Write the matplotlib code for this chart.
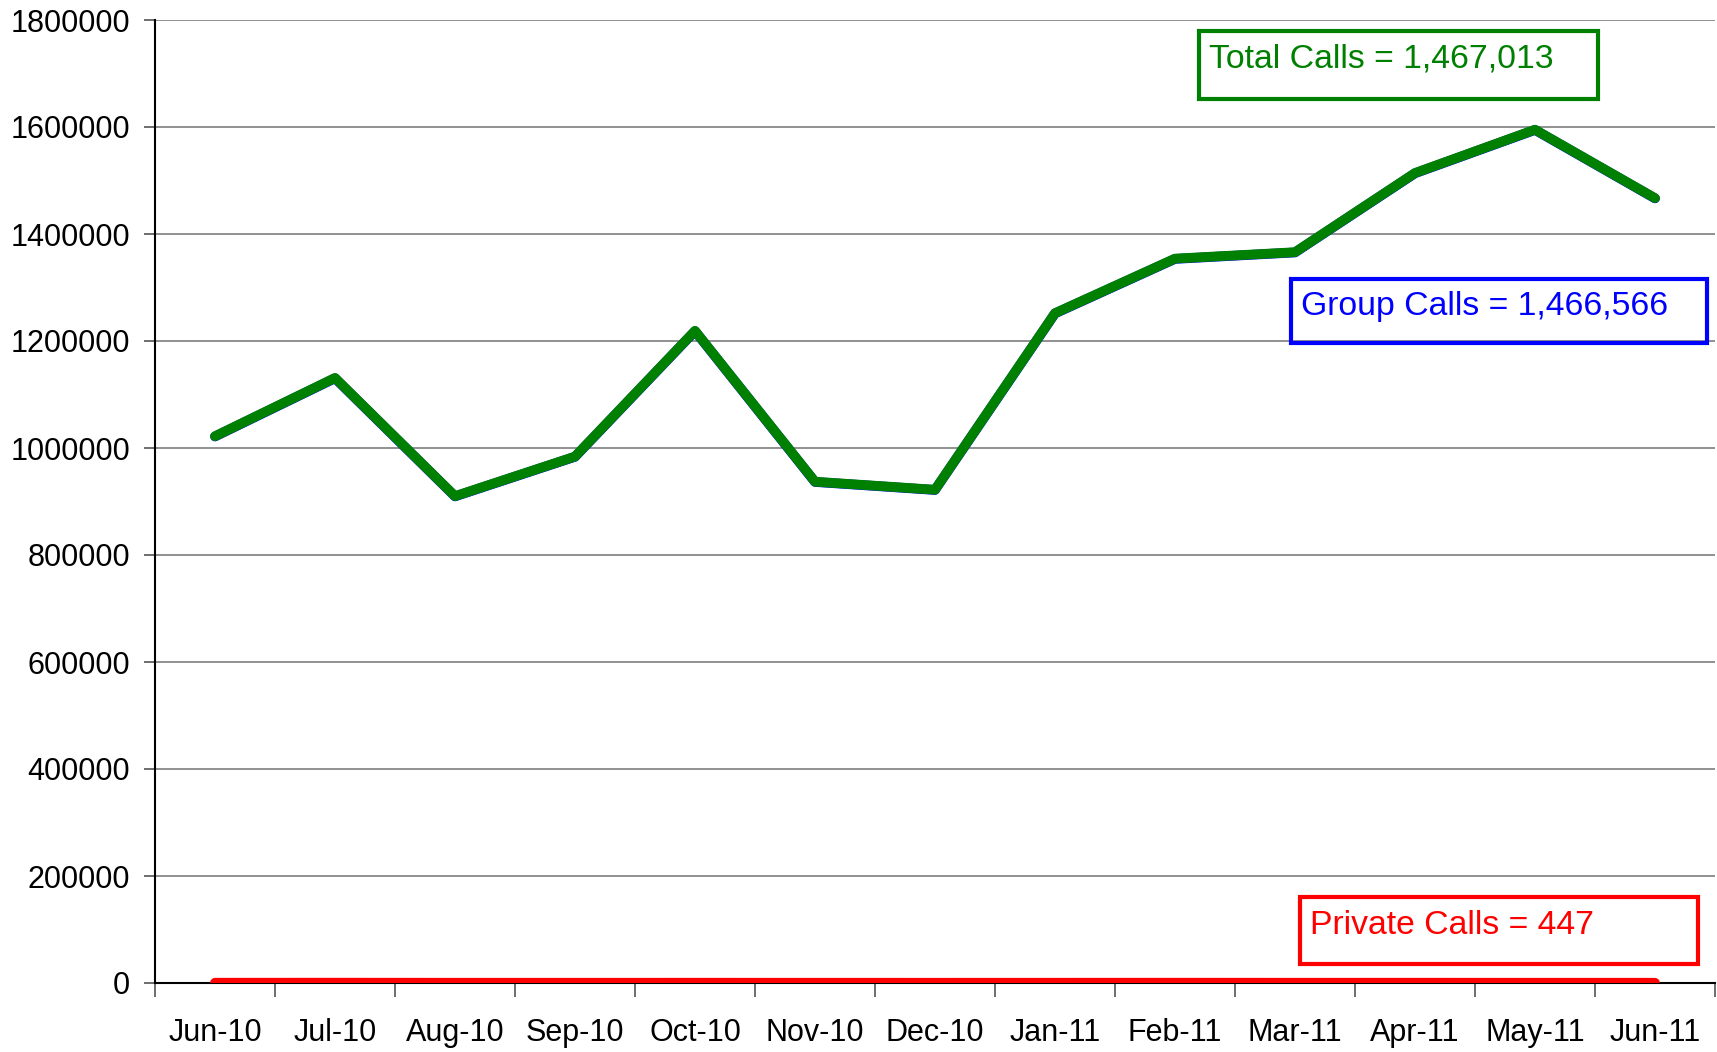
import matplotlib.pyplot as plt
import numpy as np
from matplotlib.patches import Rectangle

plt.rcParams['font.family'] = ['Liberation Sans', 'DejaVu Sans']

months = ['Jun-10', 'Jul-10', 'Aug-10', 'Sep-10', 'Oct-10', 'Nov-10', 'Dec-10',
          'Jan-11', 'Feb-11', 'Mar-11', 'Apr-11', 'May-11', 'Jun-11']
total_calls = [1022000, 1131000, 910000, 984000, 1219000, 937000, 922000,
               1252000, 1354000, 1366000, 1514000, 1595000, 1467013]
private_calls = [520, 610, 480, 450, 530, 470, 440, 500, 560, 490, 520, 480, 447]
group_calls = [t - p for t, p in zip(total_calls, private_calls)]

y_ticks = [0, 200000, 400000, 600000, 800000, 1000000, 1200000, 1400000, 1600000, 1800000]

fig = plt.figure(figsize=(17.17, 10.52), dpi=100)
ax = fig.add_axes([155 / 1717, 1 - 983 / 1052, 1560 / 1717, 963 / 1052])

x = np.arange(len(months))
ax.plot(x, group_calls, color='#0000ff', lw=7, solid_capstyle='round', zorder=3)
ax.plot(x, total_calls, color='#008000', lw=7, solid_capstyle='round', zorder=4)
ax.plot(x, private_calls, color='#ff0000', lw=7, solid_capstyle='round', zorder=5)

ax.set_xlim(-0.5, len(months) - 0.5)
ax.set_ylim(0, 1800000)

ax.set_yticks(y_ticks)
ax.set_yticklabels([str(v) for v in y_ticks], fontsize=22)
ax.tick_params(axis='y', length=8, width=1.2, pad=10, color='#555555')
ax.yaxis.grid(True, color='#888888', lw=1.3)
ax.set_axisbelow(True)

# category boundaries get the tick marks, labels sit in the middle
ax.set_xticks(np.arange(-0.5, len(months), 1.0))
ax.set_xticklabels([])
ax.set_xticks(x, minor=True)
ax.set_xticklabels(months, minor=True, fontsize=22)
ax.tick_params(axis='x', which='major', length=10, width=1.2, color='#555555')
ax.tick_params(axis='x', which='minor', length=0, pad=25)

for s in ['top', 'right']:
    ax.spines[s].set_visible(False)
ax.spines['left'].set_linewidth(1.5)
ax.spines['bottom'].set_linewidth(1.5)

# annotation boxes (figure pixel coords)
W, H = 1717, 1052
boxes = [
    ((1199, 31, 1598, 99), 'Total Calls = 1,467,013', '#008000'),
    ((1291, 279, 1707, 343), 'Group Calls = 1,466,566', '#0000ff'),
    ((1300, 897, 1698, 964), 'Private Calls = 447', '#ff0000'),
]
for (x0, y0, x1, y1), label, col in boxes:
    fig.add_artist(Rectangle((x0 / W, 1 - y1 / H), (x1 - x0) / W, (y1 - y0) / H,
                             transform=fig.transFigure, fill=False, ec=col, lw=3))
    fig.text((x0 + 10) / W, 1 - (y0 + 28) / H, label, color=col, fontsize=24.3,
             ha='left', va='center')

fig.savefig('out.png', dpi=100)
